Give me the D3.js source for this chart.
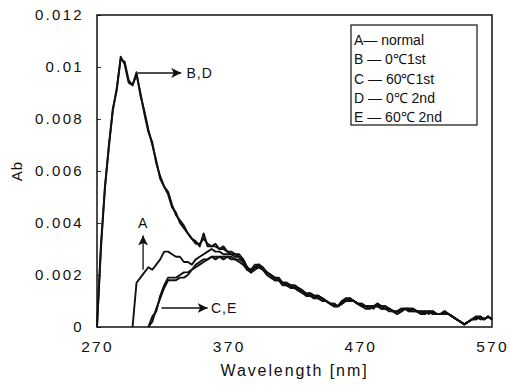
<!DOCTYPE html>
<html>
<head>
<meta charset="utf-8">
<script src="https://cdn.jsdelivr.net/npm/d3@7"></script>
<style>
  body { margin: 0; background: #fff; }
  text { font-family: "Liberation Sans", Arial, sans-serif; fill: #111; }
</style>
</head>
<body>
<div id="chart"></div>
<script>
// wavelength grid (nm), 270..570 step 3
const wavelength = d3.range(270, 571, 3);

const xTicks = [270, 370, 470, 570];
const yTicks = [0, 0.002, 0.004, 0.006, 0.008, 0.01, 0.012];

// absorbance (null = curve not drawn there)
const seriesA = [
  null, null, null, null, null, null, null, null, null, 0,
  0.0017, 0.0019, 0.0021, 0.0023, 0.0022, 0.0024, 0.0026, 0.0029, 0.0029, 0.0028,
  0.0027, 0.0027, 0.0025, 0.0025, 0.0024, 0.0026, 0.0027, 0.0028, 0.0029, 0.0030,
  0.0029, 0.0029, 0.0028, 0.0028, 0.0028, 0.0027, 0.0027, 0.0026, 0.0023, 0.0021,
  0.0023, 0.0024, 0.0022, 0.0021, 0.0020, 0.0019, 0.0018, 0.0017, 0.0017, 0.0016,
  0.0016, 0.0015, 0.0014, 0.0012, 0.0012, 0.0012, 0.0012, 0.0011, 0.0010, 0.0009,
  0.0009, 0.0008, 0.0009, 0.0011, 0.0011, 0.0010, 0.0009, 0.0009, 0.0008, 0.0008,
  0.0008, 0.0008, 0.0008, 0.0008, 0.0007, 0.0006, 0.0006, 0.0006, 0.0007, 0.0007,
  0.0007, 0.0006, 0.0006, 0.0006, 0.0005, 0.0006, 0.0005, 0.0005, 0.0005, 0.0005,
  0.0004, 0.0003, 0.0002, 0.0001, 0.0002, 0.0003, 0.0004, 0.0004, 0.0003, 0.0004,
  0.0003
];
const seriesB = [
  0, 0.0030, 0.0054, 0.0069, 0.0084, 0.0091, 0.0104, 0.0101, 0.0094, 0.0093,
  0.0098, 0.0089, 0.0083, 0.0076, 0.0070, 0.0064, 0.0057, 0.0054, 0.0052, 0.0047,
  0.0043, 0.0041, 0.0039, 0.0036, 0.0034, 0.0033, 0.0031, 0.0036, 0.0031, 0.0031,
  0.0031, 0.0030, 0.0030, 0.0029, 0.0029, 0.0028, 0.0028, 0.0026, 0.0023, 0.0022,
  0.0024, 0.0024, 0.0022, 0.0021, 0.0020, 0.0019, 0.0019, 0.0017, 0.0017, 0.0016,
  0.0016, 0.0015, 0.0014, 0.0012, 0.0013, 0.0012, 0.0012, 0.0011, 0.0010, 0.0009,
  0.0009, 0.0008, 0.0010, 0.0011, 0.0011, 0.0010, 0.0009, 0.0009, 0.0008, 0.0008,
  0.0008, 0.0009, 0.0008, 0.0008, 0.0007, 0.0006, 0.0006, 0.0007, 0.0007, 0.0007,
  0.0007, 0.0006, 0.0006, 0.0006, 0.0006, 0.0006, 0.0005, 0.0005, 0.0006, 0.0005,
  0.0004, 0.0003, 0.0002, 0.0001, 0.0002, 0.0003, 0.0004, 0.0004, 0.0003, 0.0004,
  0.0003
];
const seriesC = [
  null, null, null, null, null, null, null, null, null, null,
  null, null, null, 0, 0.0002, 0.0007, 0.0011, 0.0015, 0.0018, 0.0018,
  0.0018, 0.0019, 0.0019, 0.0020, 0.0022, 0.0023, 0.0024, 0.0025, 0.0026, 0.0027,
  0.0027, 0.0027, 0.0027, 0.0027, 0.0027, 0.0026, 0.0026, 0.0025, 0.0023, 0.0021,
  0.0023, 0.0023, 0.0022, 0.0021, 0.0020, 0.0018, 0.0018, 0.0017, 0.0016, 0.0016,
  0.0015, 0.0014, 0.0014, 0.0012, 0.0012, 0.0011, 0.0012, 0.0011, 0.0010, 0.0009,
  0.0008, 0.0008, 0.0009, 0.0010, 0.0011, 0.0010, 0.0009, 0.0008, 0.0008, 0.0007,
  0.0008, 0.0008, 0.0007, 0.0007, 0.0007, 0.0006, 0.0005, 0.0006, 0.0007, 0.0007,
  0.0006, 0.0006, 0.0006, 0.0005, 0.0006, 0.0006, 0.0005, 0.0005, 0.0006, 0.0005,
  0.0004, 0.0003, 0.0002, 0.0001, 0.0002, 0.0003, 0.0003, 0.0004, 0.0003, 0.0004,
  0.0003
];
const seriesD = [
  0, 0.0032, 0.0053, 0.0070, 0.0083, 0.0092, 0.0103, 0.0102, 0.0095, 0.0093,
  0.0097, 0.0090, 0.0082, 0.0075, 0.0071, 0.0063, 0.0058, 0.0054, 0.0051, 0.0046,
  0.0044, 0.0040, 0.0038, 0.0036, 0.0034, 0.0032, 0.0032, 0.0034, 0.0032, 0.0031,
  0.0032, 0.0030, 0.0031, 0.0029, 0.0028, 0.0028, 0.0027, 0.0025, 0.0022, 0.0022,
  0.0023, 0.0024, 0.0023, 0.0021, 0.0020, 0.0019, 0.0018, 0.0017, 0.0016, 0.0016,
  0.0015, 0.0015, 0.0014, 0.0013, 0.0013, 0.0012, 0.0011, 0.0011, 0.0010, 0.0009,
  0.0008, 0.0008, 0.0010, 0.0010, 0.0011, 0.0010, 0.0009, 0.0008, 0.0008, 0.0008,
  0.0007, 0.0009, 0.0008, 0.0007, 0.0007, 0.0006, 0.0006, 0.0007, 0.0007, 0.0006,
  0.0007, 0.0006, 0.0005, 0.0006, 0.0006, 0.0005, 0.0005, 0.0005, 0.0006, 0.0005,
  0.0004, 0.0003, 0.0002, 0.0001, 0.0002, 0.0003, 0.0004, 0.0003, 0.0003, 0.0004,
  0.0003
];
const seriesE = [
  null, null, null, null, null, null, null, null, null, null,
  null, null, null, 0, 0.0004, 0.0006, 0.0012, 0.0016, 0.0019, 0.0019,
  0.0019, 0.0020, 0.0021, 0.0021, 0.0022, 0.0024, 0.0025, 0.0026, 0.0026, 0.0027,
  0.0026, 0.0027, 0.0026, 0.0027, 0.0026, 0.0026, 0.0025, 0.0024, 0.0022, 0.0021,
  0.0022, 0.0023, 0.0022, 0.0020, 0.0019, 0.0018, 0.0018, 0.0016, 0.0016, 0.0015,
  0.0015, 0.0014, 0.0013, 0.0012, 0.0012, 0.0011, 0.0011, 0.0010, 0.0010, 0.0009,
  0.0008, 0.0008, 0.0009, 0.0010, 0.0010, 0.0010, 0.0009, 0.0008, 0.0007, 0.0007,
  0.0008, 0.0008, 0.0007, 0.0007, 0.0006, 0.0006, 0.0005, 0.0006, 0.0007, 0.0006,
  0.0006, 0.0006, 0.0005, 0.0005, 0.0006, 0.0005, 0.0005, 0.0005, 0.0005, 0.0005,
  0.0004, 0.0003, 0.0002, 0.0001, 0.0002, 0.0003, 0.0003, 0.0004, 0.0003, 0.0004,
  0.0003
];

const legendLabels = ["A\u2014 normal", "B \u2014 0\u21031st", "C \u2014 60\u21031st", "D \u2014 0\u2103 2nd", "E \u2014 60\u2103 2nd"];

// arrow annotations in data units: [label, from, to, labelAt]
const arrows = [
  ["B,D", [301, 0.00977], [334, 0.00977], [338, 0.00977]],
  ["A",   [305, 0.0022],  [305, 0.00352], [305, 0.0038]],
  ["C,E", [319, 0.00073], [354, 0.00073], [356.5, 0.00073]]
];

const width = 510, height = 387;
const svg = d3.select("#chart").append("svg")
  .attr("width", width)
  .attr("height", height);

const x = d3.scaleLinear().domain([270, 570]).range([97, 492]);
const y = d3.scaleLinear().domain([0, 0.012]).range([327, 15]);

svg.append("defs").append("marker")
  .attr("id", "head")
  .attr("viewBox", "0 0 10 10")
  .attr("refX", 10).attr("refY", 5)
  .attr("markerWidth", 10).attr("markerHeight", 10)
  .attr("markerUnits", "userSpaceOnUse")
  .attr("orient", "auto")
  .append("path")
  .attr("d", "M0,0 L10,5 L0,10 L2.5,5 Z")
  .attr("fill", "#111");

// axes
const yAxis = d3.axisLeft(y).tickValues(yTicks).tickSize(-4).tickPadding(13)
  .tickFormat(d => d === 0 ? "0" : d3.format("")(+d.toFixed(3)));
const gy = svg.append("g").attr("transform", `translate(${x(270)},0)`).call(yAxis);
gy.select(".domain").remove();
gy.selectAll("line").attr("stroke", "#333");
gy.selectAll("text")
  .style("font-size", "15px").style("letter-spacing", "2.3px");

const xAxis = d3.axisBottom(x).tickValues(xTicks).tickSize(0).tickPadding(14)
  .tickFormat(d3.format("d"));
const gx = svg.append("g").attr("transform", `translate(0,${y(0)})`).call(xAxis);
gx.select(".domain").remove();
gx.selectAll("text")
  .style("font-size", "15.5px").style("letter-spacing", "2.3px");

// frame
svg.append("rect")
  .attr("x", x(270)).attr("y", y(0.012))
  .attr("width", x(570) - x(270)).attr("height", y(0) - y(0.012))
  .attr("fill", "none").attr("stroke", "#111").attr("stroke-width", 1.5);

// axis titles
svg.append("text")
  .attr("transform", `translate(22,${(y(0) + y(0.012)) / 2}) rotate(-90)`)
  .attr("text-anchor", "middle")
  .style("font-size", "15px").style("letter-spacing", "1px")
  .text("Ab");
svg.append("text")
  .attr("x", (x(270) + x(570)) / 2).attr("y", 376)
  .attr("text-anchor", "middle")
  .style("font-size", "16px").style("letter-spacing", "1.9px")
  .text("Wavelength [nm]");

// curves
const line = d3.line()
  .defined(d => d[1] != null)
  .x(d => x(d[0]))
  .y(d => y(d[1]));

[seriesA, seriesB, seriesC, seriesD, seriesE].forEach(s => {
  svg.append("path")
    .datum(wavelength.map((w, i) => [w, s[i]]))
    .attr("d", line)
    .attr("fill", "none")
    .attr("stroke", "#111")
    .attr("stroke-width", 1.9)
    .attr("stroke-linejoin", "round");
});

// annotations
arrows.forEach(([label, from, to, at]) => {
  svg.append("line")
    .attr("x1", x(from[0])).attr("y1", y(from[1]))
    .attr("x2", x(to[0])).attr("y2", y(to[1]))
    .attr("stroke", "#111").attr("stroke-width", 1.3)
    .attr("marker-end", "url(#head)");
  const vertical = from[0] === to[0];
  svg.append("text")
    .attr("x", x(at[0])).attr("y", y(at[1]))
    .attr("dy", vertical ? "0" : "0.36em")
    .attr("text-anchor", vertical ? "middle" : "start")
    .style("font-size", "14px").style("letter-spacing", "1px")
    .text(label);
});

// legend
const lg = svg.append("g").attr("transform", "translate(351,25)");
lg.append("rect")
  .attr("width", 126).attr("height", 100)
  .attr("fill", "#fff").attr("stroke", "#111").attr("stroke-width", 1.2);
lg.selectAll("text.leg")
  .data(legendLabels)
  .join("text")
  .attr("class", "leg")
  .attr("x", 3)
  .attr("y", (d, i) => 20 + i * 19.3)
  .style("font-size", "14px")
  .text(d => d);
</script>
</body>
</html>
